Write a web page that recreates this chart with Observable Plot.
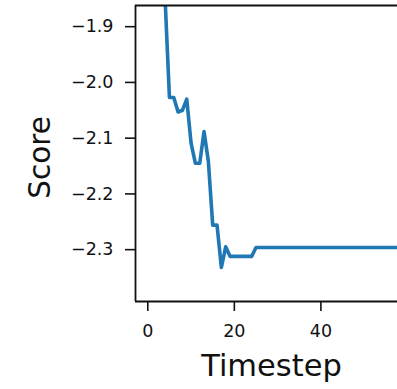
<!DOCTYPE html>
<html>
<head>
<meta charset="utf-8">
<script src="https://cdn.jsdelivr.net/npm/d3@7"></script>
<script src="https://cdn.jsdelivr.net/npm/@observablehq/plot@0.6"></script>
<style>
  html, body { margin: 0; padding: 0; background: #fff; }
  svg { display: block; }
</style>
</head>
<body>
<div id="chart"></div>
<script>
const timesteps = [0,1,2,3,4,5,6,7,8,9,10,11,12,13,14,15,16,17,18,19,20,21,22,23,24,25,26,27,28,29,30,31,32,33,34,35,36,37,38,39,40,41,42,43,44,45,46,47,48,49,50,51,52,53,54,55,56,57,58,59];
const scores = [
  -1.55, -1.65, -1.72, -1.79, -1.85,
  -2.027, -2.027, -2.053, -2.050, -2.030,
  -2.109, -2.145, -2.145, -2.088, -2.142,
  -2.256, -2.256, -2.332, -2.295, -2.312,
  -2.312, -2.312, -2.312, -2.312, -2.312,
  -2.296, -2.296, -2.296, -2.296, -2.296,
  -2.296, -2.296, -2.296, -2.296, -2.296,
  -2.296, -2.296, -2.296, -2.296, -2.296,
  -2.296, -2.296, -2.296, -2.296, -2.296,
  -2.296, -2.296, -2.296, -2.296, -2.296,
  -2.296, -2.296, -2.296, -2.296, -2.296,
  -2.296, -2.296, -2.296, -2.296, -2.296
];
const xTicks = [0, 20, 40];
const yTicks = [-1.9, -2.0, -2.1, -2.2, -2.3];
const xDomain = [-2.84, 57.7];
const yDomain = [-2.393, -1.862];
const xLabel = "Timestep";
const yLabel = "Score";

const data = timesteps.map((t, i) => ({t, s: scores[i]}));
const fmt = d => d.toFixed(1).replace("-", "\u2212");
const ink = "#111";

const chart = Plot.plot({
  width: 397,
  height: 389,
  marginLeft: 135,
  marginRight: 0,
  marginTop: 5,
  marginBottom: 88,
  style: {fontFamily: "DejaVu Sans", background: "#fff", color: ink},
  x: {domain: xDomain},
  y: {domain: yDomain},
  marks: [
    Plot.line(data, {x: "t", y: "s", stroke: "#1f77b4", strokeWidth: 3.6, clip: true, strokeLinejoin: "round"}),
    Plot.axisY(yTicks, {tickSize: 10, tickPadding: 12, tickFormat: fmt, fontSize: 17.5, strokeWidth: 1.6, stroke: ink, fill: ink, label: null}),
    Plot.axisX(xTicks, {tickSize: 10, tickPadding: 13, tickFormat: d => String(d), fontSize: 17.5, strokeWidth: 1.6, stroke: ink, fill: ink, label: null}),
    Plot.ruleX([xDomain[0]], {stroke: ink, strokeWidth: 1.8}),
    Plot.ruleY([yDomain[0]], {stroke: ink, strokeWidth: 1.8}),
    Plot.ruleY([yDomain[1]], {stroke: ink, strokeWidth: 1.8}),
    Plot.text([yLabel], {frameAnchor: "left", dx: -95, dy: 4, rotate: -90, textAnchor: "middle", lineAnchor: "middle", fontSize: 29.5, fill: ink, text: d => d}),
    Plot.text([xLabel], {frameAnchor: "bottom", dx: 5, dy: 65, textAnchor: "middle", lineAnchor: "middle", fontSize: 30.5, fill: ink, text: d => d})
  ]
});
document.getElementById("chart").appendChild(chart);
</script>
</body>
</html>
